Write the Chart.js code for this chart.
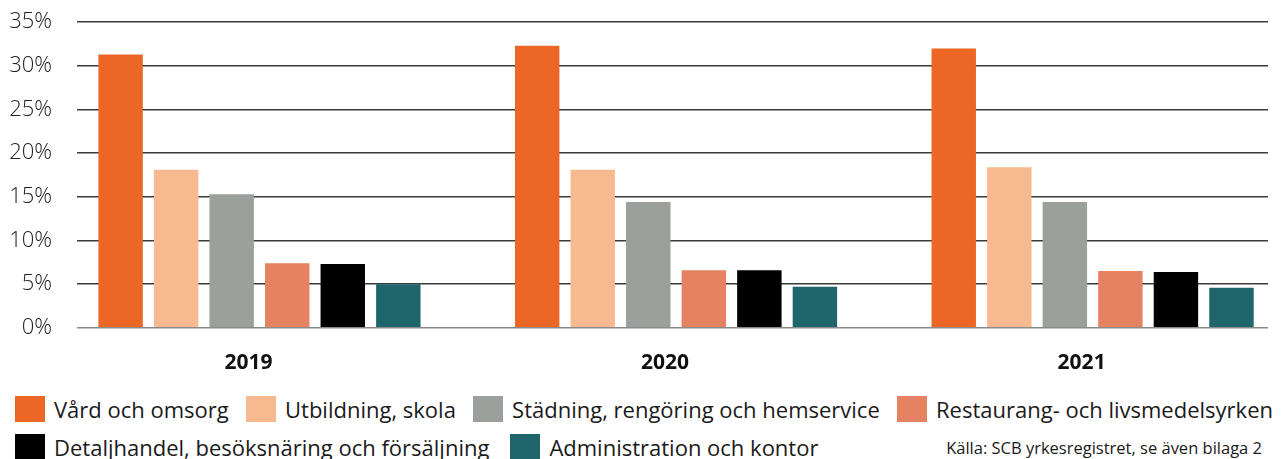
<!DOCTYPE html>
<html lang="sv">
<head>
<meta charset="utf-8">
<script src="https://cdn.jsdelivr.net/npm/chart.js@4.4.1/dist/chart.umd.min.js"></script>
<style>
  body { margin: 0; background: #fff; font-family: "Open Sans", sans-serif; overflow: hidden; }
  #wrap { position: relative; width: 1284px; height: 459px; overflow: hidden; }
  #chartBox { position: absolute; left: 0; top: -16px; width: 1284px; height: 407px; }
  #legend { position: absolute; left: 15px; top: 396px; width: 1258px; color: #1a1a1a; font-size: 22px; }
  .row { display: flex; align-items: center; height: 26px; }
  .row1 { justify-content: space-between; }
  .row2 { margin-top: 12px; gap: 21px; }
  .item { display: flex; align-items: center; white-space: nowrap; }
  .sw { width: 30px; height: 26px; margin-right: 9px; flex: none; }
  #source { position: absolute; right: 11px; top: 39px; font-size: 16.5px; line-height: 26px; color: #1a1a1a; }
</style>
</head>
<body>
<div id="wrap">
  <div id="chartBox"><canvas id="jobChart"></canvas></div>
  <div id="legend"></div>
</div>
<script>
const years = ['2019', '2020', '2021'];
const seriesNames = [
  'Vård och omsorg',
  'Utbildning, skola',
  'Städning, rengöring och hemservice',
  'Restaurang- och livsmedelsyrken',
  'Detaljhandel, besöksnäring och försäljning',
  'Administration och kontor'
];
const seriesColors = ['#EC6726', '#F7B990', '#9BA09D', '#E58262', '#000000', '#1F666C'];

const vardOmsorg     = [31.3, 32.3, 32.0];
const utbildning     = [18.1, 18.1, 18.4];
const stadning       = [15.3, 14.4, 14.4];
const restaurang     = [7.4, 6.6, 6.5];
const detaljhandel   = [7.3, 6.6, 6.4];
const administration = [5.0, 4.7, 4.6];

const yTicks = [0, 5, 10, 15, 20, 25, 30, 35];
const sourceText = 'Källa: SCB yrkesregistret, se även bilaga 2';

const allSeries = [vardOmsorg, utbildning, stadning, restaurang, detaljhandel, administration];

const datasets = allSeries.map((vals, i) => ({
  label: seriesNames[i],
  data: vals.map((v, j) => ({ x: j, y: v })),
  backgroundColor: seriesColors[i],
  borderWidth: 0,
  barPercentage: 0.8,
  categoryPercentage: 0.8
}));

new Chart(document.getElementById('jobChart').getContext('2d'), {
  type: 'bar',
  data: { datasets: datasets },
  options: {
    responsive: true,
    maintainAspectRatio: false,
    animation: false,
    layout: { padding: { left: 0, right: 16, top: 0, bottom: 0 } },
    plugins: { legend: { display: false }, tooltip: { enabled: false } },
    scales: {
      x: {
        type: 'linear',
        offset: false,
        min: -0.438,
        max: 2.421,
        grid: { display: false },
        border: { display: false },
        afterBuildTicks: axis => { axis.ticks = years.map((y, i) => ({ value: i })); },
        ticks: {
          callback: v => years[v],
          color: '#111',
          font: { family: 'Open Sans', size: 21, weight: 'bold' },
          padding: 15,
          labelOffset: -11,
          maxRotation: 0,
          autoSkip: false
        }
      },
      y: {
        min: 0,
        max: 35,
        afterFit: s => { s.width = 77; },
        afterBuildTicks: axis => { axis.ticks = yTicks.map(v => ({ value: v })); },
        grid: {
          color: c => (c.tick && c.tick.value === 0) ? '#8a8a8a' : '#3a3a3a',
          lineWidth: 1.6,
          drawTicks: false
        },
        border: { display: false },
        ticks: {
          callback: v => v + '%',
          color: '#222',
          font: { family: 'Open Sans', size: 22, weight: '300' },
          padding: 25
        }
      }
    }
  }
});

// legend, two rows like the original
const legend = document.getElementById('legend');
function legendItem(i) {
  return '<div class="item"><span class="sw" style="background:' + seriesColors[i] + '"></span>' + seriesNames[i] + '</div>';
}
legend.innerHTML =
  '<div class="row row1">' + [0, 1, 2, 3].map(legendItem).join('') + '</div>' +
  '<div class="row row2">' + [4, 5].map(legendItem).join('') + '</div>' +
  '<div id="source">' + sourceText + '</div>';
</script>
</body>
</html>
